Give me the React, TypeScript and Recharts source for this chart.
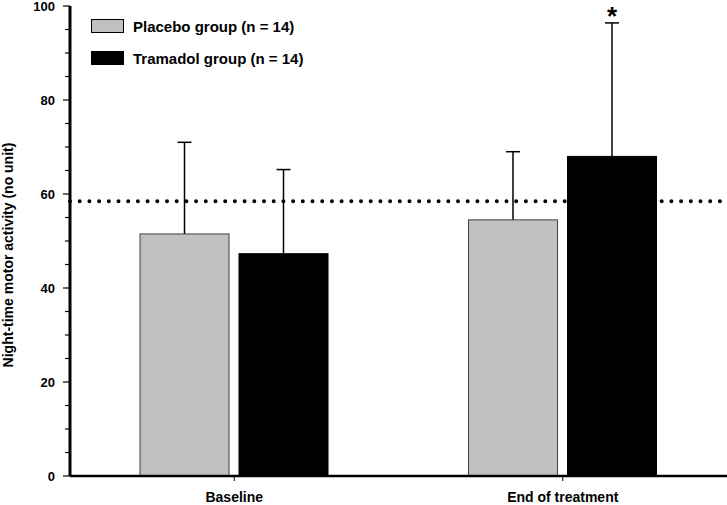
import {
  Bar,
  BarChart,
  LabelList,
  Legend,
  ReferenceLine,
  XAxis,
  YAxis,
} from 'recharts'

const groups = ['Baseline', 'End of treatment']
const placebo = [51.5, 54.5]
const placeboSd = [19.5, 14.5]
const tramadol = [47.3, 68.0]
const tramadolSd = [17.9, 28.4]
const marks = ['', '*']
const normalLevel = 58.45
const yTicks = [0, 5, 10, 15, 20, 25, 30, 35, 40, 45, 50, 55, 60, 65, 70, 75, 80, 85, 90, 95, 100]

const FONT = '"Liberation Sans", Arial, Helvetica, sans-serif'

const data = groups.map((group, i) => ({
  group,
  placebo: placebo[i],
  placeboSd: placeboSd[i],
  tramadol: tramadol[i],
  tramadolSd: tramadolSd[i],
  mark: marks[i],
}))

// bar with an upward-only SD whisker, scaled from the bar's own geometry
function barWithSd(sdKey: 'placeboSd' | 'tramadolSd', valueKey: 'placebo' | 'tramadol') {
  return (props: any) => {
    const { x, y, width, height, fill, stroke, payload } = props
    const perUnit = height / payload[valueKey]
    const top = y - payload[sdKey] * perUnit
    const cx = x + width / 2
    return (
      <g>
        <rect x={x} y={y} width={width} height={height} fill={fill} stroke={stroke} strokeWidth={1} />
        <line x1={cx} x2={cx} y1={y} y2={top} stroke="#000" strokeWidth={1.5} />
        <line x1={cx - 7} x2={cx + 7} y1={top} y2={top} stroke="#000" strokeWidth={1.5} />
      </g>
    )
  }
}

function YTick(props: any) {
  const { x, y, payload } = props
  const axisX = x + 15
  const major = payload.value % 20 === 0
  return (
    <g>
      <line x1={axisX - (major ? 7 : 5)} x2={axisX} y1={y} y2={y} stroke="#000" strokeWidth={1.2} />
      {major && (
        <text
          x={x}
          y={y}
          dy="0.36em"
          textAnchor="end"
          fontFamily={FONT}
          fontWeight="bold"
          fontSize={13}
          fill="#000"
        >
          {payload.value}
        </text>
      )}
    </g>
  )
}

function AxisTitle(props: any) {
  const vb = props.viewBox
  const cy = vb.y + vb.height / 2 + 14
  return (
    <text
      x={13}
      y={cy}
      transform={`rotate(-90 13 ${cy})`}
      textAnchor="middle"
      fontFamily={FONT}
      fontWeight="bold"
      fontSize={14}
      fill="#000"
    >
      Night-time motor activity (no unit)
    </text>
  )
}

function Star(props: any) {
  const { value, index } = props
  if (!value) return null
  const vb = props.viewBox ?? props
  const perUnit = vb.height / tramadol[index]
  const top = vb.y - tramadolSd[index] * perUnit
  return (
    <text
      x={vb.x + vb.width / 2}
      y={top + 2}
      textAnchor="middle"
      fontFamily={FONT}
      fontWeight="bold"
      fontSize={26}
      fill="#000"
    >
      {value}
    </text>
  )
}

function LegendBox(props: any) {
  const items = props.payload ?? []
  return (
    <div style={{ fontFamily: FONT }}>
      {items.map((item: any) => (
        <div key={item.value} style={{ display: 'flex', alignItems: 'center', height: 32 }}>
          <span
            style={{
              display: 'inline-block',
              width: 31,
              height: 12,
              background: item.color,
              border: '1px solid #000',
              marginRight: 9,
            }}
          />
          <span style={{ fontSize: 15, fontWeight: 'bold', color: '#000' }}>{item.value}</span>
        </div>
      ))}
    </div>
  )
}

export default function App() {
  return (
    <div style={{ width: 727, height: 505, background: '#fff' }}>
      <style>{'body{margin:0}'}</style>
      <BarChart
        width={727}
        height={505}
        data={data}
        margin={{ top: 6, right: 0, bottom: 0, left: 0 }}
        barSize={89}
        barGap={10}
      >
        <XAxis
          dataKey="group"
          height={29}
          stroke="#000"
          axisLine={{ stroke: '#000', strokeWidth: 2.5 }}
          tickLine={{ stroke: '#000', strokeWidth: 1 }}
          tickSize={5}
          tickMargin={11}
          tick={{ fill: '#000', fontFamily: FONT, fontWeight: 'bold', fontSize: 14 }}
        />
        <YAxis
          width={70}
          domain={[0, 100]}
          ticks={yTicks}
          interval={0}
          allowDataOverflow
          stroke="#000"
          strokeWidth={3}
          axisLine={{ stroke: '#000', strokeWidth: 3 }}
          tickLine={false}
          tickSize={7}
          tickMargin={8}
          tick={<YTick />}
          label={<AxisTitle />}
        />
        <Legend
          layout="vertical"
          align="center"
          verticalAlign="middle"
          wrapperStyle={{ top: 10, left: 91, width: 260 }}
          content={<LegendBox />}
        />
        <ReferenceLine
          y={normalLevel}
          stroke="#000"
          strokeWidth={4}
          strokeDasharray="0 9.7"
          strokeLinecap="round"
        />
        <Bar
          dataKey="placebo"
          name="Placebo group (n = 14)"
          fill="#c0c0c0"
          stroke="#404040"
          isAnimationActive={false}
          shape={barWithSd('placeboSd', 'placebo')}
        />
        <Bar
          dataKey="tramadol"
          name="Tramadol group (n = 14)"
          fill="#000"
          stroke="#000"
          isAnimationActive={false}
          shape={barWithSd('tramadolSd', 'tramadol')}
        >
          <LabelList dataKey="mark" content={<Star />} />
        </Bar>
      </BarChart>
    </div>
  )
}
